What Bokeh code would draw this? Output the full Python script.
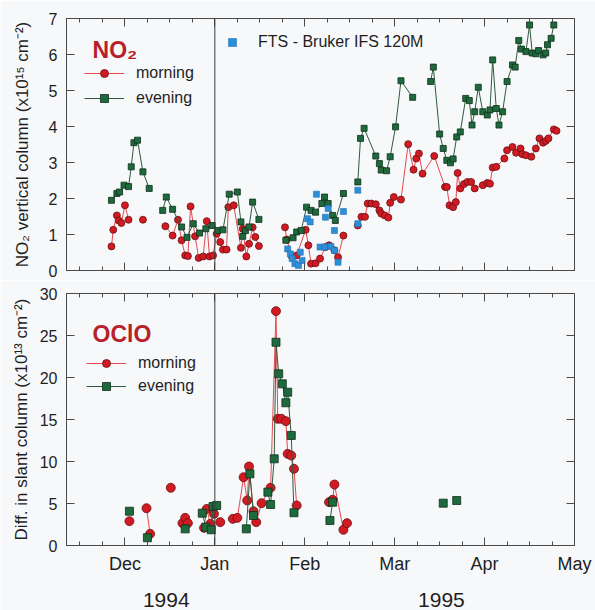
from bokeh.plotting import figure
from bokeh.layouts import column
from bokeh.models import (Range1d, FixedTicker, LinearAxis, Span, Label, Legend,
                          LegendItem, CustomJSTickFormatter)
from bokeh.embed import file_html
from bokeh.resources import INLINE

# Time axis: months since 1 Dec 1994, one unit per calendar month
MONTHS = ["Dec", "Jan", "Feb", "Mar", "Apr", "May"]
YEARS = ["1994", "1995"]

# NO2 vertical column (1e15 molec/cm2)
no2_morning_t = [-0.15, -0.13, -0.09, -0.07, -0.04, 0.00, 0.04, 0.20,
                 0.45, 0.53, 0.59, 0.63, 0.67, 0.70, 0.73, 0.78, 0.82, 0.87, 0.91, 0.94,
                 0.98, 1.02, 1.06, 1.09, 1.13, 1.15, 1.21, 1.29, 1.31, 1.35, 1.38, 1.42,
                 1.45, 1.49,
                 1.78, 1.80, 1.86, 1.91, 2.01, 2.04, 2.07, 2.12, 2.17, 2.23, 2.27, 2.33,
                 2.37, 2.43,
                 2.59, 2.63, 2.67, 2.70, 2.74, 2.79, 2.83, 2.85, 2.89, 2.93, 2.95, 2.99,
                 3.07, 3.15, 3.21, 3.24, 3.27, 3.31, 3.44, 3.56, 3.58, 3.61, 3.65, 3.68,
                 3.70, 3.73, 3.77, 3.81, 3.85, 3.89, 3.98, 4.03, 4.06, 4.09, 4.13, 4.22,
                 4.25, 4.31, 4.35, 4.40, 4.42, 4.46, 4.52, 4.57, 4.61, 4.65, 4.68, 4.71,
                 4.77, 4.80]
no2_morning = [0.67, 1.13, 1.53, 1.39, 1.32, 1.81, 1.41, 1.41,
               1.23, 0.97, 1.41, 0.84, 0.42, 0.40, 1.78, 0.95, 0.35, 0.39, 1.37, 0.39,
               0.42, 1.02, 0.79, 0.58, 0.58, 1.76, 1.81, 0.63, 1.16, 0.39, 0.74, 1.20,
               0.93, 0.68,
               1.20, 0.86, 0.37, 0.42, 1.13, 0.70, 0.19, 0.20, 0.33, 0.65, 0.70, 0.56,
               0.37, 0.97,
               1.25, 1.49, 1.49, 1.86, 1.86, 1.84, 1.67, 1.58, 1.53, 1.47, 1.88, 2.04,
               1.97, 3.51, 2.80, 3.11, 3.25, 2.69, 3.18, 2.32, 2.32, 1.81, 1.76, 1.90,
               2.71, 2.28, 2.40, 2.46, 2.46, 2.28, 2.37, 2.43, 2.41, 2.86, 2.88, 3.11,
               3.34, 3.43, 3.27, 3.39, 3.23, 3.20, 3.16, 3.39, 3.67, 3.55, 3.60, 3.67,
               3.92, 3.88]

no2_evening_t = [-0.15, -0.09, -0.06, -0.01, 0.04, 0.07, 0.10, 0.14, 0.20, 0.27,
                 0.42, 0.46, 0.53, 0.63, 0.69, 0.76, 0.83, 0.90, 0.97, 1.03, 1.09,
                 1.16, 1.25, 1.29, 1.31, 1.34, 1.38, 1.42, 1.49,
                 1.79, 1.87, 1.91, 1.96, 2.02, 2.07, 2.12, 2.19, 2.22, 2.26, 2.31, 2.34,
                 2.43,
                 2.59, 2.62, 2.66, 2.79, 2.83, 2.85, 2.91, 2.95, 3.01, 3.07, 3.20,
                 3.40, 3.43, 3.50, 3.54, 3.58, 3.62, 3.65, 3.69, 3.73, 3.79, 3.83, 3.86,
                 3.89, 3.93, 3.98, 4.03, 4.06, 4.09, 4.13, 4.16, 4.20, 4.25, 4.31, 4.34,
                 4.38, 4.41, 4.46, 4.50, 4.53, 4.57, 4.60, 4.65, 4.68, 4.70, 4.74, 4.77]
no2_evening = [1.95, 2.14, 2.18, 2.37, 2.33, 2.88, 3.55, 3.62, 2.74, 2.28,
               1.67, 2.04, 1.70, 1.21, 0.92, 1.30, 1.04, 1.16, 1.25, 1.11, 1.13,
               2.12, 2.18, 1.35, 0.95, 1.11, 1.21, 1.90, 1.42,
               0.84, 0.91, 1.07, 1.11, 1.76, 1.67, 1.62, 1.86, 2.04, 1.86, 1.53, 1.39,
               2.14,
               2.46, 3.67, 3.95, 3.18, 2.97, 2.79, 2.77, 3.16, 3.99, 5.27, 4.81,
               5.25, 5.65, 3.79, 3.39, 3.06, 2.99, 3.10, 3.71, 3.85, 4.78, 4.72, 4.04,
               4.41, 5.09, 4.41, 4.32, 4.46, 5.85, 4.50, 4.04, 4.41, 5.25, 5.71, 5.65,
               6.39, 6.15, 6.08, 6.82, 6.04, 6.02, 6.11, 5.99, 6.04, 6.27, 6.45, 6.82]

fts_t = [1.81, 1.84, 1.86, 1.89, 1.93, 1.95, 1.97, 2.03, 2.06, 2.13, 2.17, 2.22,
         2.23, 2.26, 2.29, 2.33, 2.33, 2.37, 2.43, 2.59, 2.59]
fts = [0.60, 0.46, 0.33, 0.19, 0.14, 0.51, 0.28, 1.44, 1.35, 2.12, 0.65, 0.65,
       1.48, 1.72, 0.67, 1.11, 0.56, 0.23, 1.64, 2.23, 1.30]

# OClO differential slant column (1e13 molec/cm2)
oclo_morning_t = [0.05, 0.24, 0.28, 0.51, 0.64, 0.67, 0.70, 0.88, 0.91, 0.95, 0.99,
                  1.06, 1.20, 1.25, 1.32, 1.36, 1.38, 1.43, 1.46, 1.52, 1.62, 1.68,
                  1.70, 1.74, 1.79, 1.81, 1.85, 1.88, 1.91, 2.27, 2.31, 2.33, 2.43, 2.47]
oclo_morning = [2.90, 4.44, 1.39, 6.87, 2.66, 3.29, 2.66, 2.10, 4.36, 2.58, 3.77,
                2.78, 3.17, 3.29, 8.13, 5.36, 9.40, 4.08, 2.78, 5.04, 6.87, 27.9,
                15.08, 15.08, 14.80, 10.91, 10.71, 9.13, 4.76, 5.16, 5.44, 7.26, 1.87, 2.66]

oclo_evening_t = [0.05, 0.25, 0.67, 0.86, 0.90, 0.96, 0.98, 1.02, 1.35, 1.39, 1.43,
                  1.59, 1.62, 1.66, 1.68, 1.71, 1.75, 1.79, 1.81, 1.85, 1.88,
                  2.28, 2.31, 3.54, 3.69]
oclo_evening = [4.08, 0.92, 1.98, 3.85, 2.18, 1.87, 4.64, 4.76, 1.98, 8.53, 3.57,
                6.35, 4.88, 10.32, 24.2, 20.44, 19.25, 16.99, 18.25, 13.1, 3.90,
                2.98, 5.16, 5.04, 5.36]

FONT = "Liberation Sans"
BG = "#f7f8fa"
FRAME = "#4a4a4a"
TEXT = "#1e1e1e"
TITLE_RED = "#b8202a"
RED_LINE, RED_FILL, RED_EDGE = "#e5484e", "#d11a22", "#6b1215"
GREEN_LINE, GREEN_FILL, GREEN_EDGE = "#2f5a3d", "#1e6a3c", "#0e2f1b"
BLUE_FILL, BLUE_EDGE = "#2d8fd8", "#2272b5"

x_range = Range1d(-0.65, 5.0)
month_ticker = FixedTicker(ticks=list(range(len(MONTHS))),
                           minor_ticks=[k / 4 for k in range(-2, 21) if k % 4])


def broken(t, v, max_gap):
    """Insert NaN breaks where consecutive observations are far apart."""
    xs, ys = [], []
    for i, (a, b) in enumerate(zip(t, v)):
        if i and a - t[i - 1] > max_gap:
            xs.append(float("nan"))
            ys.append(float("nan"))
        xs.append(a)
        ys.append(b)
    return xs, ys


def style_axis(ax, label_size=None):
    ax.major_tick_in = 8
    ax.major_tick_out = 0
    ax.minor_tick_in = 4
    ax.minor_tick_out = 0
    ax.axis_line_color = FRAME
    ax.major_tick_line_color = FRAME
    ax.minor_tick_line_color = FRAME
    ax.major_label_text_font = FONT
    if label_size is None:
        # tick marks only: labels are neither drawn nor given room
        ax.major_label_text_color = None
        ax.major_label_text_font_size = "0px"
        ax.major_label_standoff = 0
    else:
        ax.major_label_text_color = TEXT
        ax.major_label_text_font_size = label_size


def make_panel(height, border_top, border_bottom, ymax, yticks, ylabel, label_standoff):
    p = figure(width=595, height=height, x_range=x_range, y_range=Range1d(0, ymax),
               x_axis_type=None, y_axis_type=None,
               output_backend="svg", toolbar_location=None,
               min_border_left=66, min_border_right=21,
               min_border_top=border_top, min_border_bottom=border_bottom,
               background_fill_color=BG, border_fill_color=BG,
               outline_line_color=FRAME, outline_line_width=1)
    yticker = FixedTicker(ticks=yticks, minor_ticks=[])

    left = LinearAxis(ticker=yticker, axis_label=ylabel)
    style_axis(left, "16px")
    left.major_label_standoff = 9
    left.axis_label_text_font = FONT
    left.axis_label_text_font_size = "17px"
    left.axis_label_text_font_style = "normal"
    left.axis_label_text_color = TEXT
    left.axis_label_standoff = label_standoff
    p.add_layout(left, "left")

    right = LinearAxis(ticker=yticker)
    style_axis(right)
    p.add_layout(right, "right")

    top = LinearAxis(ticker=month_ticker)
    style_axis(top)
    p.add_layout(top, "above")

    p.add_layout(Span(location=1, dimension="height", line_color="#3a3a3a", line_width=1))
    return p


def draw_series(p, t, v, max_gap, marker, size, line_color, fill, edge):
    xs, ys = broken(t, v, max_gap)
    ln = p.line(xs, ys, line_color=line_color, line_width=1)
    pts = p.scatter(t, v, marker=marker, size=size, fill_color=fill,
                    line_color=edge, line_width=0.8)
    return ln, pts


def add_legend(p, items, loc, glyph_width, standoff, spacing):
    leg = Legend(items=items, location=loc, orientation="vertical",
                 glyph_width=glyph_width, glyph_height=20, label_height=20,
                 spacing=spacing, padding=0, margin=0, label_standoff=standoff,
                 border_line_color=None, background_fill_alpha=0,
                 label_text_font=FONT, label_text_font_size="16px",
                 label_text_color=TEXT)
    p.add_layout(leg)


# ---- NO2 panel ----
p1 = make_panel(280, 18, 10, 7, list(range(8)),
                "NO\u2082 vertical column (x10\u00b9\u2075 cm\u207b\u00b2)", 14)
bottom1 = LinearAxis(ticker=month_ticker)
style_axis(bottom1)
p1.add_layout(bottom1, "below")

m_ln, m_pts = draw_series(p1, no2_morning_t, no2_morning, 0.14, "circle", 7,
                          RED_LINE, RED_FILL, RED_EDGE)
e_ln, e_pts = draw_series(p1, no2_evening_t, no2_evening, 0.14, "square", 6,
                          GREEN_LINE, GREEN_FILL, GREEN_EDGE)
fts_pts = p1.scatter(fts_t, fts, marker="square", size=6, fill_color=BLUE_FILL,
                     line_color=BLUE_EDGE, line_width=0.6)

p1.add_layout(Label(x=-0.36, y=6.13, text="NO\u2082", text_font=FONT,
                    text_font_size="23px", text_font_style="bold",
                    text_color=TITLE_RED, text_baseline="alphabetic"))
add_legend(p1, [LegendItem(label="morning", renderers=[m_ln, m_pts]),
                LegendItem(label="evening", renderers=[e_ln, e_pts])],
           (18, 162), 40, 12, 5)
add_legend(p1, [LegendItem(label="FTS - Bruker IFS 120M", renderers=[fts_pts])],
           (156, 218), 20, 16, 0)

# ---- OClO panel ----
p2 = make_panel(330, 13, 65, 30, list(range(0, 31, 5)),
                "Diff. in slant column (x10\u00b9\u00b3 cm\u207b\u00b2)", 6)
bottom2 = LinearAxis(ticker=month_ticker)
style_axis(bottom2, "18px")
bottom2.major_label_standoff = 8
bottom2.formatter = CustomJSTickFormatter(args=dict(names=MONTHS),
                                          code="return names[Math.round(tick)] || '';")
p2.add_layout(bottom2, "below")

year_axis = LinearAxis(ticker=FixedTicker(ticks=[0.46, 3.52], minor_ticks=[]))
year_axis.axis_line_color = None
year_axis.major_tick_line_color = None
year_axis.minor_tick_line_color = None
year_axis.major_label_text_font = FONT
year_axis.major_label_text_font_size = "21px"
year_axis.major_label_text_color = TEXT
year_axis.major_label_standoff = 10
year_axis.formatter = CustomJSTickFormatter(args=dict(names=YEARS),
                                            code="return tick < 2 ? names[0] : names[1];")
p2.add_layout(year_axis, "below")

om_ln, om_pts = draw_series(p2, oclo_morning_t, oclo_morning, 0.12, "circle", 9,
                            RED_LINE, RED_FILL, RED_EDGE)
oe_ln, oe_pts = draw_series(p2, oclo_evening_t, oclo_evening, 0.12, "square", 8,
                            GREEN_LINE, GREEN_FILL, GREEN_EDGE)

p2.add_layout(Label(x=-0.36, y=25.2, text="OClO", text_font=FONT,
                    text_font_size="23px", text_font_style="bold",
                    text_color=TITLE_RED, text_baseline="alphabetic"))
add_legend(p2, [LegendItem(label="morning", renderers=[om_ln, om_pts]),
                LegendItem(label="evening", renderers=[oe_ln, oe_pts])],
           (20, 149), 40, 12, 3)

layout = column(p1, p2, spacing=0)
open("out.html", "w").write(file_html(layout, INLINE))
